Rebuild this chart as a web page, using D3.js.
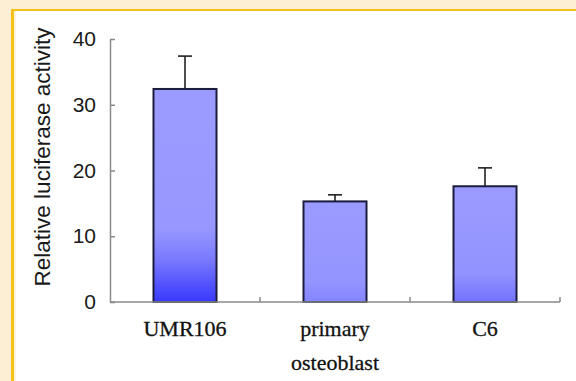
<!DOCTYPE html>
<html>
<head>
<meta charset="utf-8">
<script src="https://cdn.jsdelivr.net/npm/d3@7"></script>
<style>
  html, body { margin: 0; padding: 0; background: #fcefd3; }
  svg { display: block; }
</style>
</head>
<body>
<div id="chart"></div>
<script>
// values
const categories = ["UMR106", "primary\nosteoblast", "C6"];
const means = [32.4, 15.3, 17.6];
const errors = [5.0, 1.0, 2.8];
const yTicks = [0, 10, 20, 30, 40];

const width = 576, height = 381;

const svg = d3.select("#chart").append("svg")
    .attr("width", width)
    .attr("height", height);

// cream page, yellow frame, white panel
svg.append("rect").attr("width", width).attr("height", height).attr("fill", "#fcefd3");
svg.append("rect").attr("x", 11).attr("y", 9).attr("width", width - 11).attr("height", height - 9).attr("fill", "#f4c21a");
svg.append("rect").attr("x", 14).attr("y", 11).attr("width", width - 14).attr("height", height - 11).attr("fill", "#fdf4df");
svg.append("rect").attr("x", 16).attr("y", 11).attr("width", width - 16).attr("height", height - 11).attr("fill", "#ffffff");

const x = d3.scaleBand()
    .domain(categories)
    .range([110, 560])
    .paddingInner(0.58)
    .paddingOuter(0.29);

const y = d3.scaleLinear()
    .domain([0, 40])
    .range([302, 39]);

// gradients, the first bar darkens much more at the bottom
const defs = svg.append("defs");
const grads = [
    [{o: 0, c: "#9b9bff"}, {o: 0.66, c: "#9797ff"}, {o: 0.8, c: "#7a7aff"}, {o: 0.92, c: "#5252ff"}, {o: 1, c: "#3838ff"}],
    [{o: 0, c: "#9b9bff"}, {o: 0.8, c: "#9494ff"}, {o: 1, c: "#8484ff"}],
    [{o: 0, c: "#9b9bff"}, {o: 0.75, c: "#9393ff"}, {o: 1, c: "#7272ff"}]
];
grads.forEach((stops, i) => {
    const g = defs.append("linearGradient")
        .attr("id", "bar-" + i)
        .attr("x1", 0).attr("y1", 0).attr("x2", 0).attr("y2", 1);
    g.selectAll("stop")
        .data(stops)
        .join("stop")
        .attr("offset", d => d.o)
        .attr("stop-color", d => d.c);
});

const data = categories.map((c, i) => ({cat: c, v: means[i], e: errors[i], i: i}));

// error bars (drawn first so the bar outline sits on top)
const err = svg.append("g")
    .attr("stroke", "#222")
    .attr("stroke-width", 1.6)
    .selectAll("g")
    .data(data)
    .join("g");

err.append("line")
    .attr("x1", d => x(d.cat) + x.bandwidth() / 2)
    .attr("x2", d => x(d.cat) + x.bandwidth() / 2)
    .attr("y1", d => y(d.v))
    .attr("y2", d => y(d.v + d.e));

err.append("line")
    .attr("x1", d => x(d.cat) + x.bandwidth() / 2 - 7)
    .attr("x2", d => x(d.cat) + x.bandwidth() / 2 + 7)
    .attr("y1", d => y(d.v + d.e))
    .attr("y2", d => y(d.v + d.e));

// bars
svg.append("g")
    .selectAll("rect")
    .data(data)
    .join("rect")
    .attr("x", d => x(d.cat))
    .attr("y", d => y(d.v))
    .attr("width", x.bandwidth())
    .attr("height", d => y(0) - y(d.v))
    .attr("fill", d => `url(#bar-${d.i})`)
    .attr("stroke", "#1b1b3c")
    .attr("stroke-width", 2);

// y axis
const yAxis = svg.append("g")
    .attr("transform", "translate(110,0)")
    .call(d3.axisLeft(y).tickValues(yTicks).tickSizeInner(-5).tickSizeOuter(0).tickPadding(14));

yAxis.select(".domain").attr("stroke", "#8a8a8a").attr("stroke-width", 1.5);
yAxis.selectAll(".tick line").attr("stroke", "#8a8a8a").attr("stroke-width", 1.5);
yAxis.selectAll(".tick text")
    .attr("fill", "#1a1a1a")
    .style("font", "21px 'Liberation Sans', Arial, sans-serif");

// x axis line with ticks at the group boundaries
svg.append("line")
    .attr("x1", 110).attr("x2", 560)
    .attr("y1", y(0)).attr("y2", y(0))
    .attr("stroke", "#8a8a8a")
    .attr("stroke-width", 1.5);

svg.append("g")
    .selectAll("line")
    .data(categories)
    .join("line")
    .attr("x1", d => x(d) + x.bandwidth() / 2 + x.step() / 2)
    .attr("x2", d => x(d) + x.bandwidth() / 2 + x.step() / 2)
    .attr("y1", y(0))
    .attr("y2", y(0) - 5)
    .attr("stroke", "#8a8a8a")
    .attr("stroke-width", 1.5);

// category labels
const lab = svg.append("g")
    .style("font", "22px 'Liberation Serif', 'Times New Roman', serif")
    .attr("fill", "#111")
    .attr("stroke", "#111")
    .attr("stroke-width", 0.3)
    .attr("text-anchor", "middle")
    .selectAll("text")
    .data(categories)
    .join("text")
    .attr("x", d => x(d) + x.bandwidth() / 2)
    .attr("y", 336);

lab.selectAll("tspan")
    .data(d => d.split("\n"))
    .join("tspan")
    .attr("x", function () { return this.parentNode.getAttribute("x"); })
    .attr("dy", (d, i) => i === 0 ? 0 : 34)
    .text(d => d);

// y title
svg.append("text")
    .attr("transform", "translate(50,157) rotate(-90)")
    .attr("text-anchor", "middle")
    .attr("fill", "#1a1a1a")
    .style("font", "22.5px 'Liberation Sans', Arial, sans-serif")
    .text("Relative luciferase activity");
</script>
</body>
</html>
